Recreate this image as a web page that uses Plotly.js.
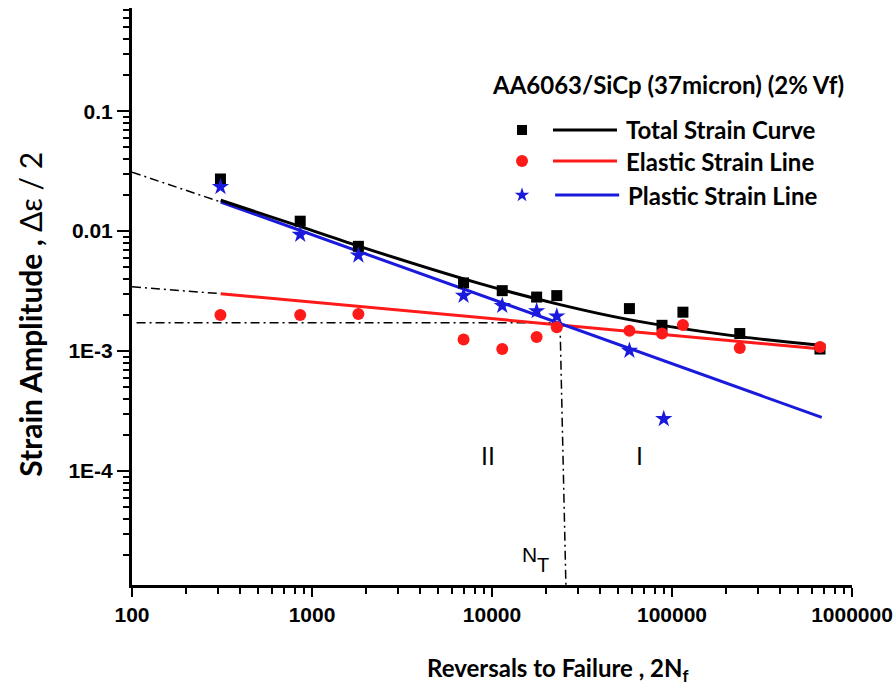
<!DOCTYPE html>
<html>
<head>
<meta charset="utf-8">
<script src="https://cdn.plot.ly/plotly-3.0.1.min.js"></script>
<style>html,body{margin:0;padding:0;background:#fff;}#chart{width:896px;height:690px;}</style>
</head>
<body>
<div id="chart"></div>
<script>
// ---- data ----
const cycles = [310, 860, 1810, 6950, 11400, 17700, 22900, 58000, 88000, 115000, 238000, 664000];
const totalStrain = [0.0272, 0.0121, 0.00747, 0.0037, 0.00319, 0.00282, 0.0029, 0.00226, 0.00164, 0.00211, 0.0014, 0.00104];
const elasticStrain = [0.0020, 0.0020, 0.00204, 0.00125, 0.00104, 0.00131, 0.00158, 0.00148, 0.0014, 0.00165, 0.00106, 0.00108];
const plasticCycles = [310, 860, 1810, 6950, 11400, 17700, 22900, 58000, 90000];
const plasticStrain = [0.0234, 0.00935, 0.00629, 0.0029, 0.00239, 0.00216, 0.00195, 0.00101, 0.000272];

const totalCurveN = [311, 865, 1816, 8580, 23870, 57700, 238700, 664000];
const totalCurveS = [0.0181, 0.0109, 0.0075, 0.00365, 0.00244, 0.00183, 0.00132, 0.00112];
const elasticLineN = [311, 679000];
const elasticLineS = [0.00301, 0.00104];
const plasticLineN = [311, 679000];
const plasticLineS = [0.0175, 0.00028];

const plasticExtN = [100, 311];
const plasticExtS = [0.031, 0.0175];
const elasticExtN = [100, 311];
const elasticExtS = [0.00343, 0.00301];
const transHorizN = [106, 23870];
const transHorizS = [0.00172, 0.00172];
const transVertN = [23870, 25760];
const transVertS = [0.00172, 0.0000105];

const xTickVals = [100, 1000, 10000, 100000, 1000000];
const xTickText = ['100', '1000', '10000', '100000', '1000000'];
const yTickVals = [0.1, 0.01, 0.001, 0.0001];
const yTickText = ['0.1', '0.01', '1E-3', '1E-4'];

const legendNames = ['Total Strain Curve', 'Elastic Strain Line', 'Plastic Strain Line'];
const chartLabel = 'AA6063/SiCp (37micron) (2% Vf)';

// ---- styles ----
const BLACK = '#000000', RED = '#ff1a1a', BLUE = '#1a1adc';
const dashDot = '9px,4px,2px,4px';

const traces = [
  {x: plasticExtN, y: plasticExtS, mode: 'lines', line: {color: BLACK, width: 1.5, dash: dashDot}},
  {x: elasticExtN, y: elasticExtS, mode: 'lines', line: {color: BLACK, width: 1.5, dash: dashDot}},
  {x: transHorizN, y: transHorizS, mode: 'lines', line: {color: BLACK, width: 1.5, dash: dashDot}},
  {x: transVertN, y: transVertS, mode: 'lines', line: {color: BLACK, width: 1.5, dash: dashDot}},
  {x: elasticLineN, y: elasticLineS, mode: 'lines', line: {color: RED, width: 3}},
  {x: plasticLineN, y: plasticLineS, mode: 'lines', line: {color: BLUE, width: 3}},
  {x: totalCurveN, y: totalCurveS, mode: 'lines', line: {color: BLACK, width: 3, shape: 'spline', smoothing: 0.8}},
  {x: cycles, y: totalStrain, mode: 'markers', marker: {symbol: 'square', color: BLACK, size: 11}},
  {x: cycles, y: elasticStrain, mode: 'markers', marker: {symbol: 'circle', color: RED, size: 12}},
  {x: plasticCycles, y: plasticStrain, mode: 'markers', marker: {symbol: 'star', color: BLUE, size: 13}},
];

// legend built on a hidden overlay axis pair (0..1 of plot area)
const legRowsY = [0.7886, 0.7348, 0.6759];
const legSymbols = [
  {symbol: 'square', color: BLACK, size: 10},
  {symbol: 'circle', color: RED, size: 12},
  {symbol: 'star', color: BLUE, size: 11}
];
const legColors = [BLACK, RED, BLUE];
legRowsY.forEach((yy, i) => {
  traces.push({x: [0.5417], y: [yy], xaxis: 'x2', yaxis: 'y2', mode: 'markers', marker: legSymbols[i], cliponaxis: false});
  traces.push({x: [0.5847 + (i === 2 ? 0.003 : 0), 0.6736 + (i === 2 ? 0.003 : 0)], y: [yy, yy], xaxis: 'x2', yaxis: 'y2', mode: 'lines', line: {color: legColors[i], width: 3}, cliponaxis: false});
});
traces.forEach(t => { t.showlegend = false; t.hoverinfo = 'skip'; });

const tickFont = {family: 'Liberation Sans, Arial, sans-serif', size: 21, color: '#000', weight: 700};
const textFont = {family: 'Lato, Open Sans, sans-serif', size: 24, color: '#000', weight: 700};
const xTitleFont = {family: 'Lato, Open Sans, sans-serif', size: 24, color: '#000', weight: 700};
const yTitleFont = {family: 'Lato, Open Sans, sans-serif', size: 30, color: '#000', weight: 700};
const romanFont = {family: 'Liberation Sans, Arial, sans-serif', size: 25, color: '#000'};
const ntFont = {family: 'Liberation Sans, Arial, sans-serif', size: 21, color: '#000'};

const annotations = [
  {xref: 'paper', yref: 'paper', x: 0.7444, y: 0.8666, text: chartLabel, showarrow: false, xanchor: 'center', yanchor: 'middle', font: textFont},
  {xref: 'paper', yref: 'paper', x: 0.592, y: -0.147, text: 'Reversals to Failure , 2N<sub>f</sub>', showarrow: false, xanchor: 'center', yanchor: 'middle', font: xTitleFont},
  {xref: 'paper', yref: 'paper', x: -0.1417, y: 0.47, text: 'Strain Amplitude , <span style="font-weight:normal">Δε / 2</span>', textangle: -90, showarrow: false, xanchor: 'center', yanchor: 'middle', font: yTitleFont},
  {xref: 'paper', yref: 'paper', x: 0.4938, y: 0.2236, text: 'II', showarrow: false, xanchor: 'center', yanchor: 'middle', font: romanFont},
  {xref: 'paper', yref: 'paper', x: 0.7052, y: 0.2236, text: 'I', showarrow: false, xanchor: 'center', yanchor: 'middle', font: romanFont},
  {xref: 'paper', yref: 'paper', x: 0.5514, y: 0.0537, text: 'N', showarrow: false, xanchor: 'center', yanchor: 'middle', font: ntFont},
  {xref: 'paper', yref: 'paper', x: 0.5708, y: 0.0338, text: 'T', showarrow: false, xanchor: 'center', yanchor: 'middle', font: {family: 'Liberation Sans, Arial, sans-serif', size: 20, color: '#000'}},
];
legRowsY.forEach((yy, i) => {
  annotations.push({xref: 'paper', yref: 'paper', x: 0.6833 + (i === 2 ? 0.003 : 0), y: yy, text: legendNames[i], showarrow: false, xanchor: 'left', yanchor: 'middle', font: textFont});
});

const layout = {
  width: 896, height: 690,
  margin: {l: 132, r: 44, t: 8, b: 105},
  paper_bgcolor: '#fff', plot_bgcolor: '#fff',
  showlegend: false,
  xaxis: {
    type: 'log', range: [2, 6], showgrid: false, zeroline: false,
    showline: true, linecolor: '#000', linewidth: 3,
    ticks: 'outside', ticklen: 9, tickwidth: 2, tickcolor: '#000',
    tickmode: 'array', tickvals: xTickVals, ticktext: xTickText, tickfont: tickFont,
    minor: {ticks: 'outside', ticklen: 6, tickwidth: 2, tickcolor: '#000', dtick: 'D1', showgrid: false}
  },
  yaxis: {
    type: 'log', range: [-4.95, -0.14], showgrid: false, zeroline: false,
    showline: true, linecolor: '#000', linewidth: 3,
    ticks: 'outside', ticklen: 12, tickwidth: 2, tickcolor: '#000',
    tickmode: 'array', tickvals: yTickVals, ticktext: yTickText, tickfont: tickFont,
    minor: {ticks: 'outside', ticklen: 6, tickwidth: 2, tickcolor: '#000', dtick: 'D1', showgrid: false}
  },
  xaxis2: {overlaying: 'x', range: [0, 1], visible: false, fixedrange: true},
  yaxis2: {overlaying: 'y', range: [0, 1], visible: false, fixedrange: true},
  annotations: annotations
};

Plotly.newPlot('chart', traces, layout, {staticPlot: true, displayModeBar: false});
</script>
</body>
</html>
